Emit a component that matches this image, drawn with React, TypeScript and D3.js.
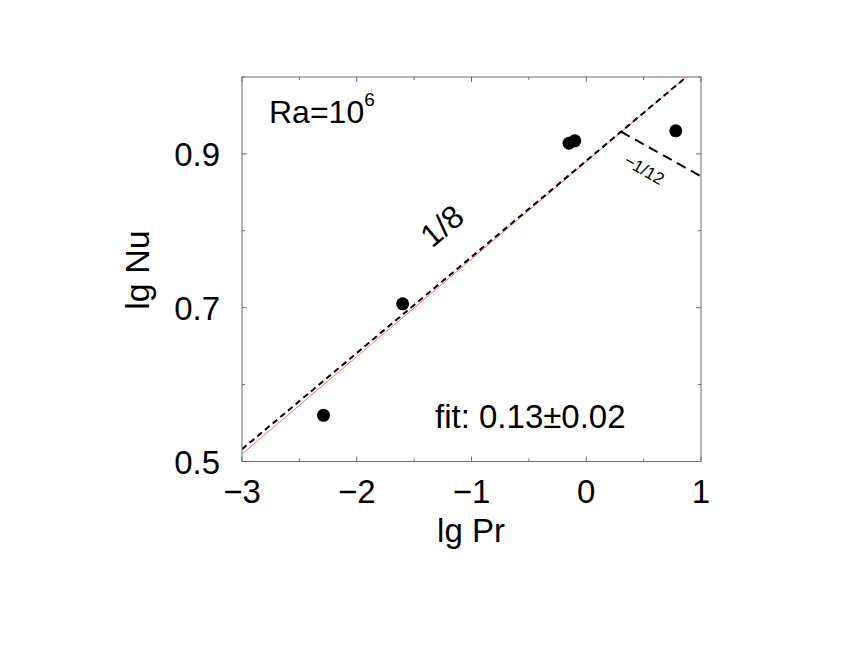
import React from 'react';
import * as d3 from 'd3';

// measured points (lg Pr, lg Nu) at Ra = 10^6
const lgPr = [-2.29, -1.6, -0.15, -0.1, 0.78];
const lgNu = [0.56, 0.705, 0.914, 0.917, 0.93];

// fitted line (red) and guide lines (dashed)
const fitLine = { a: 0.8898, b: 0.1267 };
const slopeEighth = { a: 0.891, b: 0.125, from: -3, to: 1 };
const slopeTwelfth = { x0: 0.303, b: -1 / 12, to: 1 };

const xMajor = [-3, -2, -1, 0, 1];
const xMinor = [-2.5, -1.5, -0.5, 0.5];
const yMajor = [0.5, 0.7, 0.9];
const yMinor = [0.6, 0.8, 1.0];

const W = 846;
const H = 654;
const font = 'Liberation Sans, Arial, Helvetica, sans-serif';

export default function App() {
  const x = d3.scaleLinear().domain([-3, 1]).range([242, 701]);
  const y = d3.scaleLinear().domain([0.5, 1.0]).range([461.5, 77]);
  const [x0, x1] = x.range();
  const [y0, y1] = y.range();

  const line = d3.line<[number, number]>()
    .x(d => x(d[0]))
    .y(d => y(d[1]));

  const redPts: [number, number][] = [[-3, fitLine.a - 3 * fitLine.b], [1, fitLine.a + fitLine.b]];
  const eighthPts: [number, number][] = [
    [slopeEighth.from, slopeEighth.a + slopeEighth.b * slopeEighth.from],
    [slopeEighth.to, slopeEighth.a + slopeEighth.b * slopeEighth.to],
  ];
  const ys = slopeEighth.a + slopeEighth.b * slopeTwelfth.x0;
  const twelfthPts: [number, number][] = [
    [slopeTwelfth.x0, ys],
    [slopeTwelfth.to, ys + slopeTwelfth.b * (slopeTwelfth.to - slopeTwelfth.x0)],
  ];

  const frame = '#6a6a6a';

  return (
    <svg width={W} height={H} style={{ position: 'absolute', left: 0, top: 0, background: '#fff' }}>
      <defs>
        <clipPath id="plot">
          <rect x={x0} y={y1} width={x1 - x0} height={y0 - y1} />
        </clipPath>
      </defs>

      {/* lines */}
      <g clipPath="url(#plot)">
        <path d={line(redPts) || ''} stroke="#ff7070" strokeWidth={1} fill="none" />
        <path d={line(eighthPts) || ''} stroke="#000" strokeWidth={2} strokeDasharray="6,4" fill="none" />
        <path d={line(twelfthPts) || ''} stroke="#000" strokeWidth={2} strokeDasharray="10,6" fill="none" />
      </g>

      {/* points */}
      {lgPr.map((p, i) => (
        <circle key={i} cx={x(p)} cy={y(lgNu[i])} r={6.5} fill="#000" />
      ))}

      {/* frame and ticks */}
      <rect x={x0} y={y1} width={x1 - x0} height={y0 - y1} fill="none" stroke={frame} strokeWidth={1} />
      {xMajor.concat(xMinor).map((t, i) => {
        const len = xMajor.includes(t) ? 5 : 3;
        return (
          <g key={'xt' + i} stroke={frame}>
            <line x1={x(t)} x2={x(t)} y1={y0} y2={y0 - len} />
            <line x1={x(t)} x2={x(t)} y1={y1} y2={y1 + len} />
          </g>
        );
      })}
      {yMajor.concat(yMinor).map((t, i) => {
        const len = yMajor.includes(t) ? 5 : 3;
        return (
          <g key={'yt' + i} stroke={frame}>
            <line x1={x0} x2={x0 + len} y1={y(t)} y2={y(t)} />
            <line x1={x1} x2={x1 - len} y1={y(t)} y2={y(t)} />
          </g>
        );
      })}

      {/* tick labels */}
      {xMajor.map(t => (
        <text key={'xl' + t} x={x(t)} y={503} textAnchor="middle" fontFamily={font} fontSize={33}>
          {t < 0 ? '\u2212' + Math.abs(t) : t}
        </text>
      ))}
      {yMajor.map(t => (
        <text key={'yl' + t} x={220} y={y(t) + 12} textAnchor="end" fontFamily={font} fontSize={33}>
          {t.toFixed(1)}
        </text>
      ))}

      {/* axis titles */}
      <text x={471} y={542} textAnchor="middle" fontFamily={font} fontSize={33}>lg Pr</text>
      <text transform="translate(149,270) rotate(-90)" textAnchor="middle" fontFamily={font} fontSize={34}>lg Nu</text>

      {/* annotations */}
      <text x={269} y={123} fontFamily={font} fontSize={32}>
        Ra=10<tspan dy={-17} fontSize={19}>6</tspan>
      </text>
      <text transform="translate(442,226) rotate(-40)" textAnchor="middle" dominantBaseline="central" fontFamily={font} fontSize={32}>1/8</text>
      <text transform="translate(644,170) rotate(30)" textAnchor="middle" dominantBaseline="central" fontFamily={font} fontSize={17}>{'\u22121/12'}</text>
      <text x={435} y={428} fontFamily={font} fontSize={33}>fit: 0.13&#177;0.02</text>
    </svg>
  );
}
